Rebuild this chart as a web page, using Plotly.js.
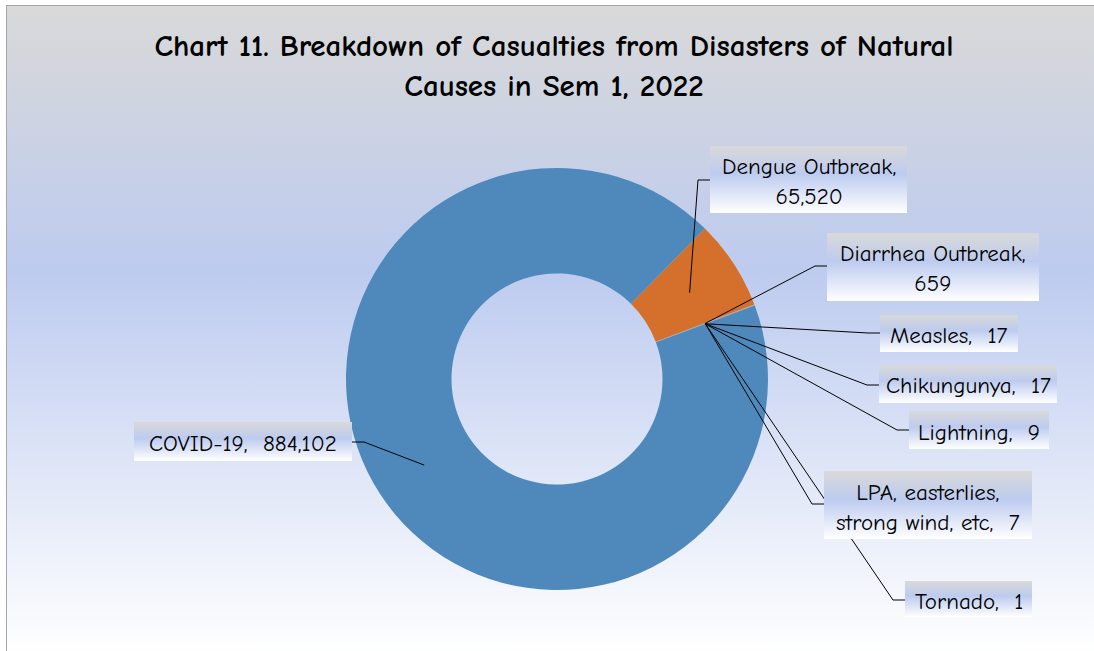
<!DOCTYPE html>
<html><head><meta charset="utf-8">
<script src="https://cdn.plot.ly/plotly-3.0.1.min.js"></script>
<style>
html,body{margin:0;padding:0;width:1094px;height:651px;overflow:hidden;background:#ffffff;}
#frame{position:absolute;left:6px;top:5px;width:1200px;height:700px;border-left:1px solid #a6a6a6;border-top:1px solid #a6a6a6;
  background:linear-gradient(to bottom,#d9d9d9 0px,#bdcbef 265px,#ffffff 650px);}
#chart{position:absolute;left:0;top:0;width:1094px;height:651px;}
</style></head><body>
<div id="frame"></div><div id="chart"></div>
<script>
// ---- data ----
const categories = ['Dengue Outbreak','Diarrhea Outbreak','Measles','Chikungunya','Lightning','LPA, easterlies, strong wind, etc','Tornado','COVID-19'];
const casualties = [65520, 659, 17, 17, 9, 7, 1, 884102];
const labelPrefix = ['Dengue Outbreak,<br>','Diarrhea Outbreak,<br>','Measles,\u00a0 ','Chikungunya,\u00a0 ','Lightning,\u00a0 ','LPA, easterlies,<br>strong wind, etc,\u00a0 ','Tornado,\u00a0 ','COVID-19,\u00a0 '];
const sliceColors = ['#d4702b','#a5a5a5','#ffc000','#5b9bd5','#70ad47','#264478','#9e480e','#4f89bc'];

// ---- layout styles (pixels) ----
const W = 1094, H = 651;
const CX = 557, CY = 379, R = 211, HOLE = 0.5, ROT = 44.5;
// label boxes: [x0, y0, x1, y1, leaderY]
const boxes = [
  [710,146,907,213,180],
  [827,233,1039,301,266],
  [880,315,1018,352,333],
  [879,365,1057,403,385],
  [909,411,1049,449,430],
  [824,471,1032,539,504],
  [905,581,1032,617,600],
  [134,422,352,461,442]
];
const FONT = '"Comic Sans MS","Comic Neue","DejaVu Sans",sans-serif';

const px = x => x / W;
const py = y => 1 - y / H;
const fmt = v => v.toLocaleString('en-US');

// anchor points at mid-radius of each slice, computed from the data
const total = casualties.reduce((a, b) => a + b, 0);
const rMid = R * (1 + HOLE) / 2;
let ang = ROT;
const anchors = casualties.map(v => {
  const span = 360 * v / total;
  const mid = (ang + span / 2) * Math.PI / 180;
  ang += span;
  return [CX + rMid * Math.sin(mid), CY - rMid * Math.cos(mid)];
});

const shapes = [];
boxes.forEach((b, i) => {
  const right = b[0] > CX;
  const endX = right ? b[0] : b[2];
  const elbowX = right ? endX - 12 : endX + 12;
  const a = anchors[i];
  shapes.push({type: 'path', xref: 'paper', yref: 'paper', layer: 'above',
    path: `M ${px(a[0])} ${py(a[1])} L ${px(elbowX)} ${py(b[4])} L ${px(endX)} ${py(b[4])}`,
    line: {color: '#000000', width: 1}});
});
const boxStart = shapes.length;
boxes.forEach(b => {
  shapes.push({type: 'rect', xref: 'paper', yref: 'paper', layer: 'above',
    x0: px(b[0]), x1: px(b[2]), y0: py(b[3]), y1: py(b[1]),
    fillcolor: '#cdd6f0', line: {width: 0}});
});

const annotations = boxes.map((b, i) => ({
  xref: 'paper', yref: 'paper', showarrow: false,
  x: px((b[0] + b[2]) / 2), y: py((b[1] + b[3]) / 2 + 2), xanchor: 'center', yanchor: 'middle',
  text: labelPrefix[i] + fmt(casualties[i]), align: 'center',
  font: {family: FONT, size: 23, color: '#000000'}
}));

const trace = {
  type: 'pie', labels: categories, values: casualties, sort: false,
  direction: 'clockwise', rotation: ROT, hole: HOLE,
  marker: {colors: sliceColors, line: {width: 0}},
  textinfo: 'none', hoverinfo: 'label+value', showlegend: false,
  domain: {x: [px(CX - R), px(CX + R)], y: [py(CY + R), py(CY - R)]}
};

const layout = {
  width: W, height: H, margin: {l: 0, r: 0, t: 0, b: 0},
  paper_bgcolor: 'rgba(0,0,0,0)', plot_bgcolor: 'rgba(0,0,0,0)',
  showlegend: false,
  title: {text: 'Chart 11. Breakdown of Casualties from Disasters of Natural<br>Causes in Sem 1, 2022',
    x: 554 / W, xanchor: 'center', y: 1 - 56 / H, yanchor: 'middle', yref: 'container',
    font: {family: FONT, size: 31, color: '#000000', weight: 'bold'}},
  shapes: shapes, annotations: annotations
};

Plotly.newPlot('chart', [trace], layout, {displayModeBar: false, staticPlot: true}).then(gd => {
  const svg = gd.querySelector('.main-svg');
  const defs = svg.querySelector('defs');
  const NS = 'http://www.w3.org/2000/svg';
  const g = document.createElementNS(NS, 'linearGradient');
  g.setAttribute('id', 'boxGrad'); g.setAttribute('x1', '0'); g.setAttribute('y1', '0');
  g.setAttribute('x2', '0'); g.setAttribute('y2', '1');
  [['0', '#d9d9d9'], ['0.42', '#bdcbef'], ['1', '#ffffff']].forEach(s => {
    const st = document.createElementNS(NS, 'stop');
    st.setAttribute('offset', s[0]); st.setAttribute('stop-color', s[1]);
    g.appendChild(st);
  });
  defs.appendChild(g);
  boxes.forEach((b, i) => {
    gd.querySelectorAll(`.shapelayer path[data-index="${boxStart + i}"]`).forEach(p => {
      p.style.setProperty('fill', 'url(#boxGrad)');
      p.style.setProperty('fill-opacity', '1');
    });
  });
});
</script>
</body></html>
